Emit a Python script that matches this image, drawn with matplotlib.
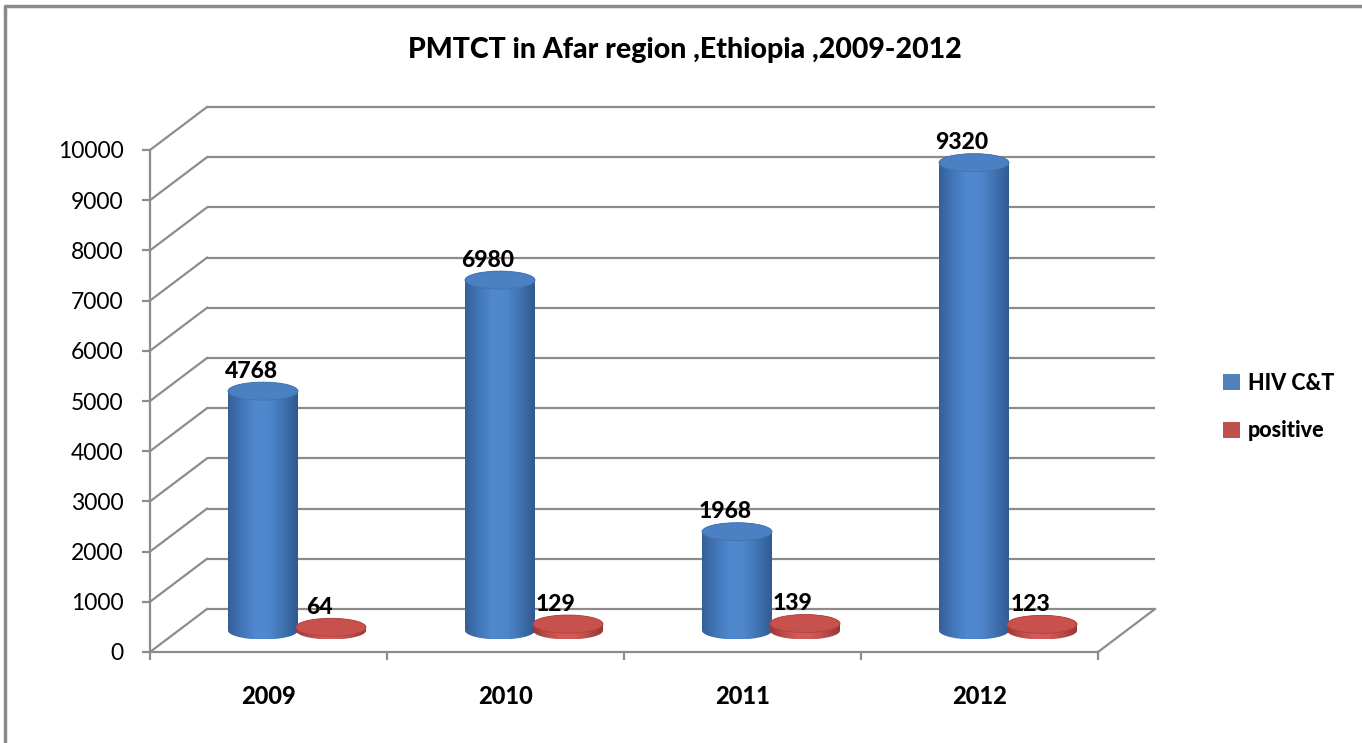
import numpy as np
import matplotlib
matplotlib.use('Agg')
import matplotlib.pyplot as plt
from matplotlib.patches import Polygon, Ellipse, Patch
from matplotlib.lines import Line2D
from matplotlib.colors import LinearSegmentedColormap

# ---- data ----
years = ['2009', '2010', '2011', '2012']
hiv_ct = [4768, 6980, 1968, 9320]
positive = [64, 129, 139, 123]
series_names = ['HIV C&T', 'positive']
y_ticks = list(range(0, 10001, 1000))
title = 'PMTCT in Afar region ,Ethiopia ,2009-2012'

plt.rcParams['font.family'] = ['Lato', 'DejaVu Sans']
BW = 'black'

W, H = 1362, 743
fig = plt.figure(figsize=(W / 100, H / 100), dpi=100)
fig.patch.set_facecolor('white')

ax = fig.add_axes([150 / W, 1 - 652 / H, 948 / W, 502 / H])
ax.set_xlim(-0.5, len(years) - 0.5)
ax.set_ylim(0, 10000)
ax.patch.set_alpha(0)

grid_c = '#8c8c8c'

fig.canvas.draw()
p0 = ax.transData.transform((0, 0))
inv = ax.transData.inverted()
ddx, ddy = inv.transform(p0 + np.array([57, 43]))
px_x = ax.transData.transform((1, 0))[0] - p0[0]
px_y = ax.transData.transform((0, 1000))[1] - p0[1]

x0, x1 = -0.5, len(years) - 0.5
for v in y_ticks:
    ax.plot([x0 + ddx, x1 + ddx], [v + ddy, v + ddy], color=grid_c, lw=1.6,
            clip_on=False, zorder=1, solid_capstyle='butt')
    ax.plot([x0, x0 + ddx], [v, v + ddy], color=grid_c, lw=1.6,
            clip_on=False, zorder=1)
ax.plot([x1, x1 + ddx], [0, ddy], color=grid_c, lw=1.6, clip_on=False, zorder=1)

for s in ['top', 'right']:
    ax.spines[s].set_visible(False)
for s in ['left', 'bottom']:
    ax.spines[s].set_color(grid_c)
    ax.spines[s].set_linewidth(1.6)
ax.set_yticks(y_ticks)
ax.set_yticklabels([str(v) for v in y_ticks], fontsize=16.5)
ax.tick_params(axis='y', direction='out', length=6, width=1.6, color=grid_c, pad=13)
ax.set_xticks(np.arange(len(years) + 1) - 0.5)
ax.set_xticklabels([])
ax.tick_params(axis='x', which='major', direction='out', length=6, width=1.6, color=grid_c)
ax.set_xticks(np.arange(len(years)), minor=True)
ax.set_xticklabels(years, minor=True, fontsize=17, fontweight=BW)
ax.tick_params(axis='x', which='minor', length=0, pad=24)

w_cat = 70 / px_x
e_h = 18 / px_y * 1000
off = 34 / px_x

blue_cmap = LinearSegmentedColormap.from_list(
    'b', ['#355f97', '#4277b9', '#5189d0', '#4f86cb', '#3f71b0', '#2f5a90'])
red_cmap = LinearSegmentedColormap.from_list(
    'r', ['#9a3836', '#bd4c49', '#d25c59', '#cf5a57', '#b94a47', '#953634'])
grad = np.linspace(0, 1, 256).reshape(1, -1)


def cylinder(cx, val, cmap, top_c, edge_c):
    base = ddy / 2
    top = val + ddy / 2
    a = w_cat / 2
    b = e_h / 2
    t1 = np.linspace(np.pi, 2 * np.pi, 60)
    t2 = np.linspace(0, np.pi, 60)
    xs = np.concatenate([cx + a * np.cos(t1), cx + a * np.cos(t2)])
    ys = np.concatenate([base + b * np.sin(t1), top + b * np.sin(t2)])
    poly = Polygon(np.column_stack([xs, ys]), closed=True, facecolor='none',
                   edgecolor='none', transform=ax.transData)
    ax.add_patch(poly)
    im = ax.imshow(grad, cmap=cmap, aspect='auto', interpolation='bilinear',
                   extent=[cx - a, cx + a, base - b, top + b], zorder=3,
                   origin='lower')
    im.set_clip_path(poly)
    ax.add_patch(Ellipse((cx, top), w_cat, e_h, facecolor=top_c,
                         edgecolor=edge_c, lw=0.6, zorder=4))
    return top


for i, yr in enumerate(years):
    cxb = i - off + ddx / 2
    cxr = i + off + ddx / 2
    tb = cylinder(cxb, hiv_ct[i], blue_cmap, '#4b80c3', '#4273b2')
    tr = cylinder(cxr, positive[i], red_cmap, '#c8514e', '#ad4441')
    ax.annotate(str(hiv_ct[i]), (cxb, tb), xytext=(-12 * 0.72, 20 * 0.72),
                textcoords='offset points', ha='center', va='center',
                fontsize=16.5, fontweight=BW, zorder=6, annotation_clip=False)
    ax.annotate(str(positive[i]), (cxr, tr), xytext=(-12 * 0.72, 20 * 0.72),
                textcoords='offset points', ha='center', va='center',
                fontsize=16.5, fontweight=BW, zorder=6, annotation_clip=False)

ax.set_xlim(x0, x1)
ax.set_ylim(0, 10000)

fig.text(685 / W, 1 - 50 / H, title, ha='center', va='center',
         fontsize=20.5, fontweight=BW)

handles = [Patch(facecolor='#4f81bd', edgecolor='none'),
           Patch(facecolor='#c0504d', edgecolor='none')]
fig.legend(handles, series_names, loc='center left',
           bbox_to_anchor=(1204 / W, 1 - 407 / H), frameon=False,
           prop={'weight': BW, 'size': 15.5}, handlelength=0.75,
           handleheight=0.75, handletextpad=0.4, labelspacing=1.25)

fig.add_artist(Line2D([5 / W, 5 / W, 1.0], [0, 1 - 6 / H, 1 - 6 / H],
                      color='#8a8a8a', lw=2.5, transform=fig.transFigure))

fig.savefig('out.png', dpi=100, facecolor='white')
